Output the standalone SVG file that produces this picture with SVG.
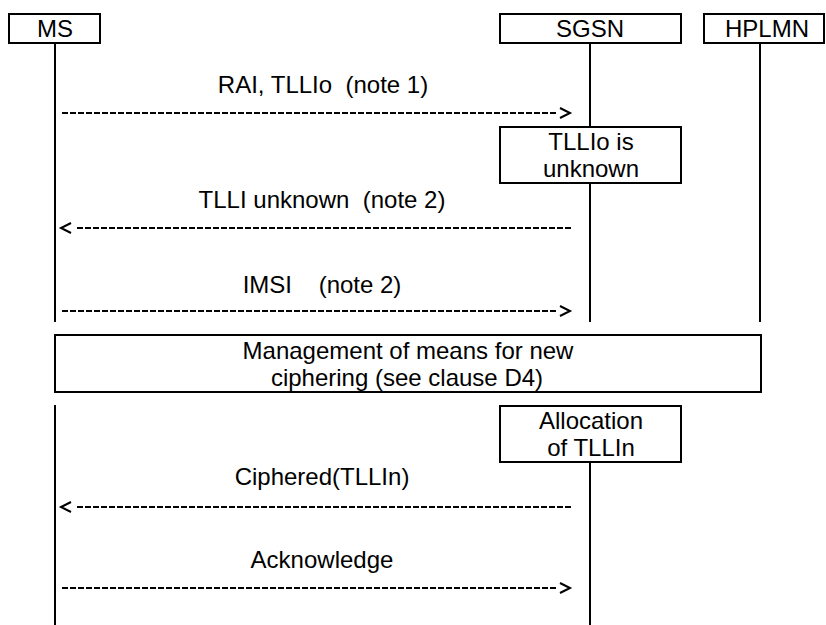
<svg xmlns="http://www.w3.org/2000/svg" width="826" height="625" viewBox="0 0 826 625">
<style>
  text { font-family: "Liberation Sans", Arial, sans-serif; font-size: 24px; fill: #000; white-space: pre; }
  .c { text-anchor: middle; }
  .box { fill: #fff; stroke: #000; stroke-width: 2; }
  .life { stroke: #000; stroke-width: 2; fill: none; }
  .msg { stroke: #000; stroke-width: 2; stroke-dasharray: 6 2; fill: none; }
  .head { stroke: #000; stroke-width: 2; fill: none; stroke-linejoin: miter; }
</style>
<rect width="826" height="625" fill="#fff"/>

<g id="lifelines">
  <line class="life" x1="55" y1="43" x2="55" y2="322"/>
  <line class="life" x1="55" y1="405" x2="55" y2="625"/>
  <line class="life" x1="590" y1="43" x2="590" y2="127"/>
  <line class="life" x1="590" y1="183" x2="590" y2="322"/>
  <line class="life" x1="590" y1="462" x2="590" y2="625"/>
  <line class="life" x1="760" y1="43" x2="760" y2="322"/>
</g>

<g id="node-ms">
  <rect class="box" x="9" y="14" width="91" height="29"/>
  <text class="c" x="55" y="37">MS</text>
</g>
<g id="node-sgsn">
  <rect class="box" x="500" y="14" width="181" height="29"/>
  <text class="c" x="590" y="37">SGSN</text>
</g>
<g id="node-hplmn">
  <rect class="box" x="704" y="14" width="120" height="29"/>
  <text class="c" x="767" y="37">HPLMN</text>
</g>
<g id="node-tllio-unknown">
  <rect class="box" x="500" y="127" width="181" height="56"/>
  <text class="c" x="591" y="150">TLLIo is</text>
  <text class="c" x="591" y="177">unknown</text>
</g>
<g id="node-management">
  <rect class="box" x="55" y="335" width="706" height="57"/>
  <text class="c" x="408" y="359">Management of means for new</text>
  <text class="c" x="407" y="386">ciphering (see clause D4)</text>
</g>
<g id="node-allocation">
  <rect class="box" x="500" y="406" width="181" height="56"/>
  <text class="c" x="591" y="429">Allocation</text>
  <text class="c" x="591" y="456">of TLLIn</text>
</g>

<g id="connectors">
  <g id="msg-rai">
    <text class="c" x="323" y="93" xml:space="preserve">RAI, TLLIo  (note 1)</text>
    <line class="msg" x1="62" y1="113" x2="557" y2="113"/>
    <polyline class="head" points="560,108 570,113 560,118"/>
  </g>
  <g id="msg-tlli-unknown">
    <text class="c" x="322" y="208" xml:space="preserve">TLLI unknown  (note 2)</text>
    <line class="msg" x1="571" y1="228" x2="76" y2="228"/>
    <polyline class="head" points="71,223 61,228 71,233"/>
  </g>
  <g id="msg-imsi">
    <text class="c" x="322" y="293" xml:space="preserve">IMSI    (note 2)</text>
    <line class="msg" x1="62" y1="311" x2="557" y2="311"/>
    <polyline class="head" points="560,306 570,311 560,316"/>
  </g>
  <g id="msg-ciphered">
    <text class="c" x="322" y="485">Ciphered(TLLIn)</text>
    <line class="msg" x1="571" y1="507" x2="76" y2="507"/>
    <polyline class="head" points="71,502 61,507 71,512"/>
  </g>
  <g id="msg-ack">
    <text class="c" x="322" y="568">Acknowledge</text>
    <line class="msg" x1="62" y1="588" x2="557" y2="588"/>
    <polyline class="head" points="560,583 570,588 560,593"/>
  </g>
</g>
</svg>
